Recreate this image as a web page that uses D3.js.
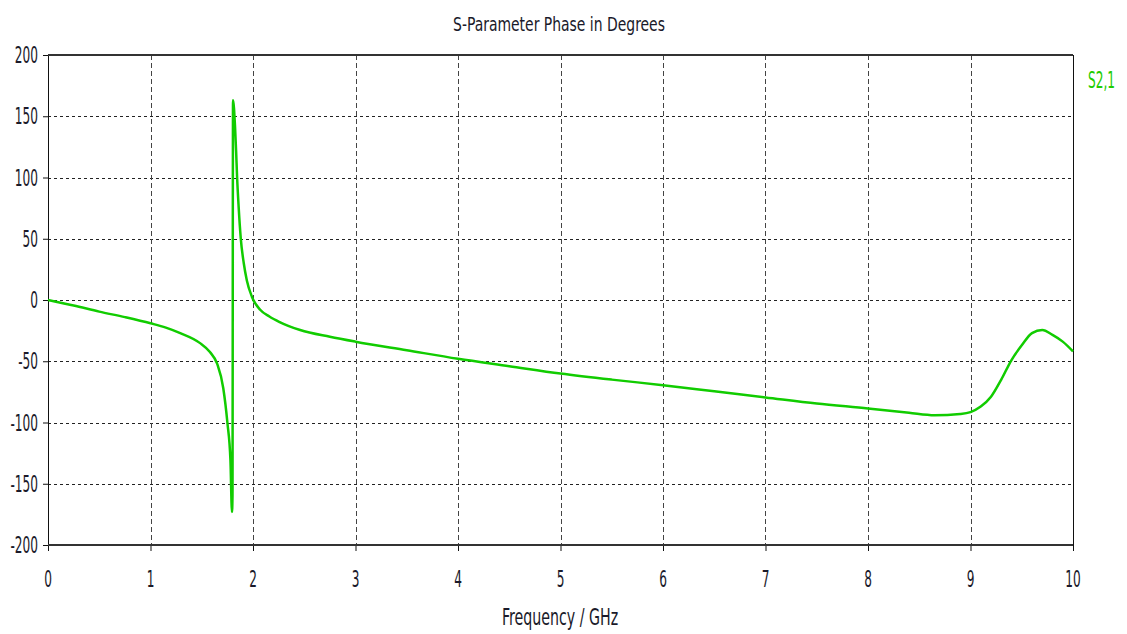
<!DOCTYPE html>
<html>
<head>
<meta charset="utf-8">
<script src="https://cdn.jsdelivr.net/npm/d3@7"></script>
<style>
	body { margin: 0; background: #fff; }
	text { font-family: "DejaVu Sans Condensed", "DejaVu Sans", sans-serif; }
</style>
</head>
<body>
<svg id="chart" width="1127" height="634"></svg>
<script>
// values
const freq = [0, 0.25, 0.5, 0.75, 1.0, 1.15, 1.29, 1.48, 1.58, 1.65, 1.71, 1.75, 1.78, 1.795, 1.8,
	1.805, 1.825, 1.835, 1.845, 1.86, 1.88, 1.91, 1.94, 1.99, 2.07, 2.16, 2.26, 2.46, 2.75,
	3, 3.5, 4, 4.5, 5, 5.5, 6, 6.5, 7, 7.5, 8, 8.4, 8.65, 8.9, 9.0, 9.1, 9.2, 9.3, 9.4, 9.5, 9.6,
	9.7, 9.8, 9.9, 10];
const phase = [0, -4.5, -9.5, -14, -19, -22.5, -27, -35, -42.5, -52, -72, -100, -131, -173, -160,
	163, 141, 122, 100, 76, 51, 30, 16, 2.5, -8, -13.5, -18, -24.5, -30,
	-34, -41, -48, -54, -60, -65, -69.5, -74.5, -79.5, -84.5, -88.5, -92, -94, -93, -91.5, -87, -79, -65, -49,
	-37, -27, -24.5, -28.5, -34, -42];
const xTicks = [0, 1, 2, 3, 4, 5, 6, 7, 8, 9, 10];
const yTicks = [-200, -150, -100, -50, 0, 50, 100, 150, 200];
const seriesName = "S2,1";

const svg = d3.select("#chart");
const m = { left: 48, right: 1073, top: 55, bottom: 545 };
const lineColor = "#11cc00";

const x = d3.scaleLinear().domain([0, 10]).range([m.left, m.right]);
const y = d3.scaleLinear().domain([-200, 200]).range([m.bottom, m.top]);

// stretched text, the reference font is tall and narrow
function label(txt, px, py, size, sy, anchor, color) {
	svg.append("text")
		.attr("transform", `translate(${px},${py}) scale(1,${sy})`)
		.attr("text-anchor", anchor)
		.style("font-size", size + "px")
		.attr("fill", color || "#1a1a2a")
		.text(txt);
}

// grid
svg.append("g")
	.selectAll("line")
	.data(yTicks.slice(1, -1))
	.join("line")
	.attr("x1", m.left).attr("x2", m.right)
	.attr("y1", (d) => Math.round(y(d)) + 0.5).attr("y2", (d) => Math.round(y(d)) + 0.5)
	.attr("stroke", "#222")
	.attr("stroke-dasharray", "3,3");
svg.append("g")
	.selectAll("line")
	.data(xTicks.slice(1, -1))
	.join("line")
	.attr("x1", (d) => Math.round(x(d)) + 0.5).attr("x2", (d) => Math.round(x(d)) + 0.5)
	.attr("y1", m.top).attr("y2", m.bottom)
	.attr("stroke", "#444")
	.attr("stroke-dasharray", "5,3");

// axes
svg.append("g")
	.attr("transform", `translate(${m.left},0)`)
	.call(d3.axisLeft(y).tickValues(yTicks).tickSize(5).tickFormat(""));
svg.append("g")
	.attr("transform", `translate(0,${m.bottom})`)
	.call(d3.axisBottom(x).tickValues(xTicks).tickSize(6).tickFormat(""));
svg.selectAll(".domain").attr("stroke", "#111");
svg.selectAll(".tick line").attr("stroke", "#111");

// frame
svg.append("line").attr("x1", m.left).attr("x2", m.right).attr("y1", m.top).attr("y2", m.top)
	.attr("stroke", "#333").attr("stroke-width", 2);
svg.append("line").attr("x1", m.left).attr("x2", m.right).attr("y1", m.bottom).attr("y2", m.bottom)
	.attr("stroke", "#333").attr("stroke-width", 2);
svg.append("line").attr("x1", m.right + 0.5).attr("x2", m.right + 0.5).attr("y1", m.top).attr("y2", m.bottom)
	.attr("stroke", "#111");

// tick labels
yTicks.forEach((d) => label(d, m.left - 10, y(d) + 8, 13.5, 1.75, "end"));
xTicks.forEach((d) => label(d, x(d), m.bottom + 42, 13.5, 1.75, "middle"));

// curve
const line = d3.line()
	.x((d, i) => x(freq[i]))
	.y((d) => y(d))
	.curve(d3.curveMonotoneX);
svg.append("path")
	.datum(phase)
	.attr("d", line)
	.attr("fill", "none")
	.attr("stroke", lineColor)
	.attr("stroke-width", 2.5);

// titles
label("S-Parameter Phase in Degrees", 559, 31, 15.5, 1.28, "middle");
label("Frequency / GHz", 560, 625, 15.8, 1.5, "middle");
label(seriesName, 1088, 88, 13.5, 1.75, "start", "#22cc00");
</script>
</body>
</html>
